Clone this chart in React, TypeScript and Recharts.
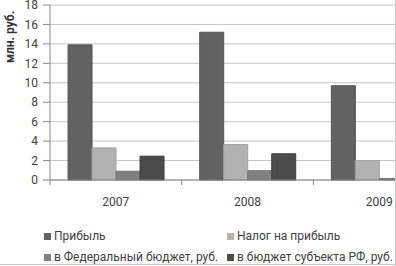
import { Bar, BarChart, CartesianGrid, XAxis, YAxis } from 'recharts';

const years = ['2007', '2008', '2009'];
const profit = [13.9, 15.2, 9.7];
const tax = [3.3, 3.65, 2.0];
const federal = [0.9, 0.95, 0.15];
const regional = [2.45, 2.7, 0.3];
const yTicks = [0, 2, 4, 6, 8, 10, 12, 14, 16, 18];

const seriesKeys = ['profit', 'tax', 'federal', 'regional'];
const seriesNames = ['Прибыль', 'Налог на прибыль', 'в Федеральный бюджет, руб.', 'в бюджет субъекта РФ, руб.'];
const seriesColors = ['#626262', '#b2b2b2', '#808080', '#4b4b4b'];
const seriesStrokes = ['#555555', '#a3a3a3', '#737373', '#3f3f3f'];

const data = years.map((year, i) => ({
  year,
  profit: profit[i],
  tax: tax[i],
  federal: federal[i],
  regional: regional[i],
}));

const font = 'Roboto, "Noto Sans", sans-serif';

// category label plus a tick mark on the left boundary of each band
const YearTick = (props: any) => {
  const { x, y, payload } = props;
  const half = payload.offset ?? 65.75;
  return (
    <g>
      <line x1={x - half} x2={x - half} y1={y} y2={y + 5} stroke="#878787" />
      <text x={x} y={y + 26} textAnchor="middle" fontSize={12} fill="#404040" fontFamily={font}>
        {payload.value}
      </text>
    </g>
  );
};

const legendPos = [
  { left: 44, top: 229 },
  { left: 227, top: 229 },
  { left: 44, top: 250 },
  { left: 227, top: 250 },
];

export default function App() {
  return (
    <div
      style={{
        position: 'fixed',
        top: 0,
        left: 0,
        width: 396,
        height: 266,
        overflow: 'hidden',
        background: '#fff',
        fontFamily: font,
      }}
    >
      <BarChart
        width={445}
        height={266}
        data={data}
        margin={{ top: 5, right: 0, left: 0, bottom: 56 }}
        barCategoryGap="13.7%"
        barGap={0}
      >
        <CartesianGrid vertical={false} stroke="#c4c4c4" />
        <XAxis
          dataKey="year"
          height={30}
          interval={0}
          tickLine={false}
          tickSize={0}
          tickMargin={0}
          axisLine={{ stroke: '#878787' }}
          tick={<YearTick />}
        />
        <YAxis
          width={50}
          domain={[0, 18]}
          ticks={yTicks}
          interval={0}
          tickSize={7}
          tickMargin={5}
          axisLine={{ stroke: '#878787' }}
          tickLine={{ stroke: '#878787' }}
          tick={{ fontSize: 12, fill: '#404040', fontFamily: font }}
        />
        {seriesKeys.map((key, i) => (
          <Bar
            key={key}
            dataKey={key}
            name={seriesNames[i]}
            fill={seriesColors[i]}
            stroke={seriesStrokes[i]}
            strokeWidth={1}
            isAnimationActive={false}
          />
        ))}
      </BarChart>

      <div
        style={{
          position: 'absolute',
          left: 10,
          top: 37,
          transform: 'translate(-50%, -50%) rotate(-90deg)',
          fontSize: 12,
          fontWeight: 'bold',
          color: '#333',
          whiteSpace: 'nowrap',
        }}
      >
        млн. руб.
      </div>

      {seriesNames.map((name, i) => (
        <div
          key={name}
          style={{
            position: 'absolute',
            left: legendPos[i].left,
            top: legendPos[i].top,
            display: 'flex',
            alignItems: 'center',
            fontSize: 12,
            lineHeight: '14px',
            color: '#404040',
            whiteSpace: 'nowrap',
          }}
        >
          <span style={{ width: 7, height: 7, background: seriesColors[i], marginRight: 3, display: 'inline-block' }} />
          {name}
        </div>
      ))}

      <div style={{ position: 'absolute', left: 395, top: 0, width: 1, height: 266, background: '#c8c8c8' }} />
      <div style={{ position: 'absolute', left: 0, top: 264, width: 396, height: 1, background: '#c8c8c8' }} />
    </div>
  );
}
